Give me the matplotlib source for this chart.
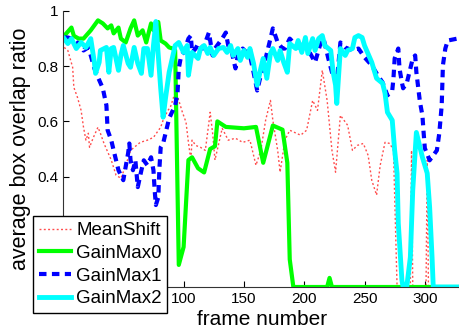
import matplotlib
matplotlib.use("Agg")
import matplotlib.pyplot as plt

plt.rcParams['font.family'] = ['Liberation Sans', 'DejaVu Sans']

# ---- data (frame number, average box overlap ratio) ----
ms_frames = [1, 4, 8, 9, 12, 15, 17, 19, 21, 22, 25, 29, 31, 34, 40, 44, 48, 52, 56, 64,
             70, 75, 81, 83, 87, 89, 93, 96, 99, 102, 103, 104, 106, 107, 110, 114, 118, 121,
             122, 124, 126, 132, 137, 143, 149, 155, 160, 164, 168, 172, 174, 178, 180, 184,
             188, 197, 202, 207, 211, 215, 219, 223, 226, 230, 236, 240, 244, 249, 253, 256,
             260, 263, 267, 271, 274, 277, 288, 289, 290, 301, 302, 303, 330]
ms_values = [0.868, 0.857, 0.796, 0.723, 0.687, 0.64, 0.579, 0.532, 0.557, 0.506, 0.54, 0.579,
             0.557, 0.52, 0.46, 0.405, 0.394, 0.44, 0.495, 0.524, 0.532, 0.542, 0.579, 0.604,
             0.64, 0.651, 0.705, 0.676, 0.633, 0.597, 0.56, 0.524, 0.46, 0.532, 0.513, 0.506,
             0.495, 0.597, 0.633, 0.56, 0.46, 0.575, 0.532, 0.539, 0.524, 0.532, 0.441, 0.495,
             0.604, 0.676, 0.604, 0.495, 0.416, 0.532, 0.568, 0.55, 0.568, 0.676, 0.64, 0.785,
             0.676, 0.495, 0.416, 0.622, 0.586, 0.495, 0.513, 0.52, 0.477, 0.387, 0.333, 0.441,
             0.524, 0.52, 0.495, 0.0, 0.0, 0.495, 0.0, 0.0, 0.459, 0.0, 0.0]

g0_frames = [1, 7, 9, 13, 17, 23, 29, 33, 37, 40, 42, 46, 48, 52, 56, 59, 62, 66, 69, 73, 75,
             79, 81, 85, 88, 91, 93, 96, 100, 104, 107, 112, 117, 122, 126, 128, 135, 150,
             160, 166, 174, 182, 186, 188, 191, 219, 221, 223, 330]
g0_values = [0.91, 0.94, 0.91, 0.90, 0.90, 0.93, 0.966, 0.955, 0.937, 0.948, 0.919, 0.94,
             0.90, 0.886, 0.937, 0.966, 0.911, 0.93, 0.886, 0.955, 0.93, 0.96, 0.893, 0.882,
             0.868, 0.864, 0.857, 0.08, 0.145, 0.46, 0.47, 0.43, 0.415, 0.5, 0.51, 0.6, 0.58,
             0.575, 0.58, 0.45, 0.585, 0.57, 0.45, 0.1, 0.0, 0.0, 0.033, 0.0, 0.0]

g1_frames = [1, 4, 7, 11, 15, 17, 21, 23, 26, 29, 33, 36, 37, 40, 42, 46, 50, 51, 54, 55, 56,
             58, 60, 62, 65, 67, 70, 73, 75, 76, 77, 79, 80, 81, 83, 88, 93, 95, 96, 98, 100,
             104, 106, 107, 110, 112, 116, 118, 121, 124, 126, 132, 135, 137, 140, 143, 145,
             149, 153, 155, 158, 161, 164, 168, 172, 174, 178, 182, 184, 188, 191, 195, 199,
             205, 209, 213, 216, 220, 223, 227, 230, 234, 240, 245, 250, 256, 261, 265, 269,
             273, 274, 275, 278, 279, 281, 282, 285, 288, 290, 292, 293, 296, 298, 299, 300,
             304, 310, 312, 314, 315, 317, 319, 327, 330]
g1_values = [0.904, 0.904, 0.90, 0.886, 0.882, 0.857, 0.868, 0.839, 0.792, 0.76, 0.72, 0.658,
             0.568, 0.532, 0.495, 0.423, 0.387, 0.412, 0.485, 0.52, 0.459, 0.423, 0.459, 0.362,
             0.423, 0.459, 0.441, 0.47, 0.423, 0.351, 0.297, 0.325, 0.434, 0.506, 0.52, 0.611,
             0.658, 0.705, 0.792, 0.839, 0.85, 0.90, 0.911, 0.85, 0.864, 0.882, 0.864, 0.886,
             0.922, 0.839, 0.864, 0.90, 0.922, 0.875, 0.85, 0.792, 0.839, 0.864, 0.846, 0.839,
             0.778, 0.712, 0.767, 0.828, 0.90, 0.937, 0.886, 0.864, 0.864, 0.90, 0.886, 0.868,
             0.893, 0.846, 0.814, 0.875, 0.90, 0.828, 0.778, 0.741, 0.886, 0.868, 0.857, 0.864,
             0.832, 0.803, 0.767, 0.741, 0.694, 0.712, 0.756, 0.828, 0.864, 0.792, 0.741, 0.72,
             0.738, 0.792, 0.828, 0.839, 0.778, 0.669, 0.622, 0.56, 0.503, 0.459, 0.495, 0.557,
             0.658, 0.803, 0.864, 0.893, 0.90, 0.90]

g2_frames = [1, 4, 7, 11, 15, 19, 23, 26, 27, 30,
             31, 36, 38, 40, 42, 46, 48, 50, 54, 56,
             59, 62, 65, 67, 70, 73, 75, 77, 79, 81,
             83, 85, 88, 93, 96, 100, 103, 104, 107, 112,
             114, 117, 120, 122, 125, 129, 133, 136, 139, 141,
             145, 147, 150, 153, 155, 158, 161, 164, 166, 169,
             172, 174, 178, 180, 183, 186, 188, 193, 195, 198,
             201, 203, 207, 209, 212, 215, 217, 222, 224, 226,
             227, 228, 230, 234, 236, 240, 242, 245, 248, 250,
             256, 260, 265, 267, 269, 273, 275, 277, 278, 281,
             282, 285, 288, 290, 293, 298, 302, 304, 306, 307,
             330]
g2_values = [0.90, 0.882, 0.90, 0.864, 0.886, 0.868, 0.90, 0.814, 0.774, 0.814,
             0.857, 0.868, 0.778, 0.864, 0.868, 0.785, 0.839, 0.875, 0.81, 0.796,
             0.868, 0.81, 0.774, 0.864, 0.864, 0.767, 0.875, 0.962, 0.839, 0.72,
             0.615, 0.684, 0.778, 0.875, 0.886, 0.85, 0.875, 0.767, 0.85, 0.828,
             0.864, 0.875, 0.846, 0.868, 0.839, 0.864, 0.868, 0.85, 0.875, 0.839,
             0.864, 0.821, 0.857, 0.832, 0.864, 0.81, 0.731, 0.792, 0.828, 0.756,
             0.846, 0.864, 0.821, 0.857, 0.814, 0.778, 0.882, 0.864, 0.893, 0.85,
             0.904, 0.846, 0.90, 0.857, 0.90, 0.911, 0.875, 0.857, 0.778, 0.731,
             0.665, 0.731, 0.864, 0.839, 0.857, 0.864, 0.904, 0.911, 0.904, 0.875,
             0.814, 0.756, 0.738, 0.702, 0.633, 0.604, 0.495, 0.412, 0.231, 0.025,
             0.0, 0.0, 0.108, 0.351, 0.56, 0.47, 0.412, 0.289, 0.108, 0.0,
             0.0]

labels = ["MeanShift", "GainMax0", "GainMax1", "GainMax2"]
x_ticks = [0, 50, 100, 150, 200, 250, 300]
x_ticklabels = ["", "", "100", "150", "200", "250", "300"]   # first ones sit under the legend
y_ticks = [0, 0.2, 0.4, 0.6, 0.8, 1.0]
y_ticklabels = ["", "", "0.4", "0.6", "0.8", "1"]

W, H = 460, 333
fig = plt.figure(figsize=(W / 100, H / 100), dpi=100)
ax = fig.add_axes([63 / W, 1 - 287 / H, 398 / W, 276 / H])

ax.plot(ms_frames, ms_values, color=(1, 0, 0), alpha=0.7, lw=1.0, linestyle=(0, (1.4, 1.7)),
        label=labels[0])
ax.plot(g0_frames, g0_values, color=(0, 1, 0), lw=3.0, solid_joinstyle='round', label=labels[1])
ax.plot(g1_frames, g1_values, color=(0, 0, 1), lw=3.0, linestyle=(0, (1.8, 1.3)), label=labels[2])
ax.plot(g2_frames, g2_values, color=(0, 1, 1), lw=3.5, solid_joinstyle='round', label=labels[3])

ax.set_xlim(1, 330)
ax.set_ylim(0, 1)
ax.set_xticks(x_ticks)
ax.set_xticklabels(x_ticklabels)
ax.set_yticks(y_ticks)
ax.set_yticklabels(y_ticklabels)
ax.tick_params(direction='in', length=4, width=0.8, labelsize=11, colors='black')
ax.spines['top'].set_visible(False)
ax.spines['right'].set_visible(False)
ax.spines['left'].set_color('#333333')
ax.spines['bottom'].set_color('#333333')
for s in ('left', 'bottom'):
    ax.spines[s].set_linewidth(0.8)

ax.set_xlabel("frame number", fontsize=15, labelpad=3)
ax.set_ylabel("average box overlap ratio", fontsize=15.5, labelpad=4)

leg = ax.legend(loc='lower left', bbox_to_anchor=(33 / W, 1 - 313 / H),
                bbox_transform=fig.transFigure, fontsize=13.5, frameon=True, fancybox=False,
                framealpha=1, edgecolor='black', borderpad=0.3, labelspacing=0.3,
                handlelength=1.7, handletextpad=0.3, borderaxespad=0)
leg.get_frame().set_linewidth(1.0)

fig.savefig("out.png", dpi=100)
